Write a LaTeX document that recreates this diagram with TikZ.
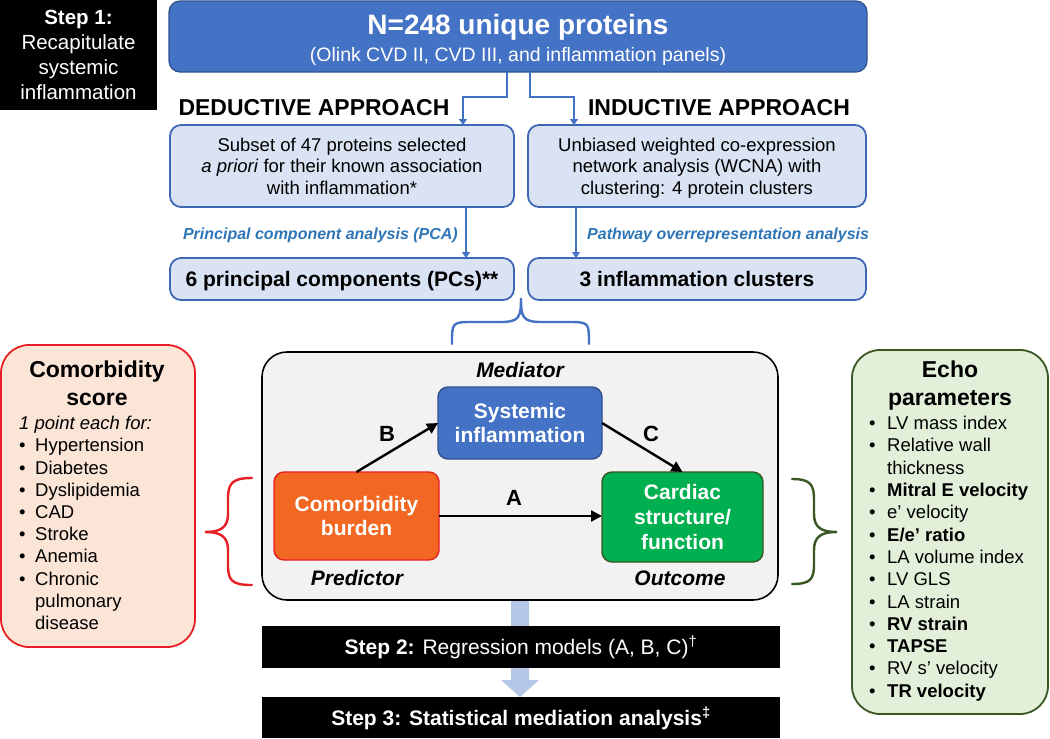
\documentclass[tikz,border=0pt]{standalone}
\usepackage{fontspec}
\setmainfont{Liberation Sans}
\usetikzlibrary{arrows.meta,calc}
\definecolor{blueA}{RGB}{68,114,196}
\definecolor{blueD}{RGB}{47,82,143}
\definecolor{blueL}{RGB}{218,227,243}
\definecolor{blueB}{RGB}{62,104,180}
\definecolor{labelblue}{RGB}{46,117,182}
\definecolor{peach}{RGB}{251,229,214}
\definecolor{redB}{RGB}{232,30,37}
\definecolor{echoF}{RGB}{226,240,217}
\definecolor{greenD}{RGB}{56,87,35}
\definecolor{orangeF}{RGB}{242,103,34}
\definecolor{greenF}{RGB}{0,176,80}
\definecolor{grayF}{RGB}{242,242,242}
\definecolor{arrowL}{RGB}{180,199,231}
\newcommand{\fsz}[2]{\fontsize{#1pt}{#2pt}\selectfont}
\newcommand{\tlines}[2]{\begin{tabular}[t]{@{}#1@{}}#2\end{tabular}}
\newcommand{\bul}[1]{\makebox[#1][l]{\textbullet}}
\tikzset{
  box/.style={rectangle, inner sep=0pt, outer sep=0pt},
  topbox/.style={box, draw=blueD, fill=blueA, line width=1.2pt, rounded corners=11pt},
  lbox/.style={box, draw=blueB, fill=blueL, line width=1.8pt, rounded corners=11pt, align=center},
  conn/.style={draw=blueA, line width=2pt, -{Triangle[width=8pt,length=6pt]}},
  blab/.style={text=labelblue, font=\fsz{16}{19}\bfseries\itshape, inner sep=0pt},
  causal/.style={draw=black, line width=2.4pt, -{Triangle[width=11pt,length=11pt]}},
  bracestyle/.style={line width=2.4pt, line cap=round},
  txt/.style={anchor=base, inner sep=0pt},
  medbox/.style={box, line width=1.4pt, rounded corners=10pt, text=white},
  stepbar/.style={box, fill=black, text=white, minimum width=518pt, font=\fsz{21}{24}, text height=15pt, text depth=0pt},
  sidebox/.style={box, line width=1.8pt, rounded corners=28pt},
}
\begin{document}
\begin{tikzpicture}[x=1pt, y=-1pt]
\useasboundingbox (0,0) rectangle (1050,739);

% Step 1
\node[box, fill=black, minimum width=157pt, minimum height=110pt, text=white,
      font=\fsz{20.5}{25}, text height=14.7pt, text depth=75pt] (step1) at (78.5,55)
  {\tlines{c}{\textbf{Step 1:}\\Recapitulate\\systemic\\inflammation}};

% Top box
\node[topbox, minimum width=698pt, minimum height=71pt] (top) at (518,36.5) {};
\node[txt, text=white, font=\fsz{28}{32}\bfseries] (toptitle) at (518,34.5) {N=248 unique proteins};
\node[txt, text=white, font=\fsz{19.5}{22}] (topsub) at (518,61) {(Olink CVD II, CVD III, and inflammation panels)};

% Approach headings
\node[txt, font=\fsz{23}{26}\bfseries] (ded) at (314,115) {DEDUCTIVE APPROACH};
\node[txt, font=\fsz{23}{26}\bfseries] (ind) at (719,115) {INDUCTIVE APPROACH};

% Upper light boxes
\node[lbox, minimum width=344pt, minimum height=82pt, font=\fsz{18.5}{21.5},
      text height=13.2pt, text depth=43pt] (dbox) at (342,166)
  {\tlines{c}{Subset of 47 proteins selected\\\textit{a priori} for their known association\\with inflammation*}};
\node[lbox, minimum width=338pt, minimum height=82pt, font=\fsz{18.5}{21.5},
      text height=13.2pt, text depth=43pt] (ibox) at (697,166)
  {\tlines{c}{Unbiased weighted co-expression\\network analysis (WCNA) with\\clustering: 4 protein clusters}};

% Lower light boxes
\node[lbox, minimum width=344pt, minimum height=42pt, font=\fsz{21}{24}\bfseries,
      text height=15pt, text depth=0pt] (pcbox) at (342,279) {6 principal components (PCs)**};
\node[lbox, minimum width=338pt, minimum height=42pt, font=\fsz{21}{24}\bfseries,
      text height=15pt, text depth=0pt] (clbox) at (697,279) {3 inflammation clusters};

% Connectors top
\coordinate (sL) at (507,0);
\coordinate (sR) at (530,0);
\coordinate (jL) at (463,97);
\coordinate (jR) at (574,97);
\draw[conn] (top.south -| sL) |- (jL) -- (dbox.north -| jL);
\draw[conn] (top.south -| sR) |- (jR) -- (ibox.north -| jR);

\coordinate (aL) at (466,0);
\coordinate (aR) at (576,0);
\draw[conn] (dbox.south -| aL) -- (pcbox.north -| aL);
\draw[conn] (ibox.south -| aR) -- (clbox.north -| aR);
\node[blab, anchor=base east] (pcalab) at (458,239) {Principal component analysis (PCA)};
\node[blab, anchor=base west] (pathlab) at (587,239) {Pathway overrepresentation analysis};

% Blue brace
\draw[bracestyle, draw=blueA] (452,344) .. controls (452,322) and (452,322) .. (474,322) -- (500,322)
  .. controls (519,322) and (521,318) .. (521,298)
  .. controls (521,318) and (523,322) .. (542,322) -- (567,322)
  .. controls (589,322) and (589,322) .. (589,344);

% Light blue big arrow
\fill[arrowL] ($(520,600)+(-9,0)$) -- ++(0,80) -- ++(-10,0) -- ++(19,17) -- ++(19,-17) -- ++(-10,0) -- ++(0,-80) -- cycle;

% Mediation box
\node[box, draw=black, fill=grayF, line width=1.6pt, rounded corners=25pt,
      minimum width=516pt, minimum height=248pt] (med) at (520,476) {};
\node[txt, font=\fsz{21}{24}\bfseries\itshape] (medlab) at (520,377.5) {Mediator};
\node[medbox, draw=blueD, fill=blueA, minimum width=164pt, minimum height=72pt,
      font=\fsz{21}{24}\bfseries, text height=15pt, text depth=24pt] (sys) at (520,423)
  {\tlines{c}{Systemic\\inflammation}};
\node[medbox, draw=redB, fill=orangeF, minimum width=165pt, minimum height=88pt,
      font=\fsz{21}{24}\bfseries, text height=15pt, text depth=24pt] (orange) at (356.5,516)
  {\tlines{c}{Comorbidity\\burden}};
\node[medbox, draw=greenD, fill=greenF, minimum width=161pt, minimum height=90pt,
      font=\fsz{21}{25}\bfseries, text height=15pt, text depth=50pt] (cardiac) at (682.5,517)
  {\tlines{c}{Cardiac\\structure/\\function}};
\node[txt, font=\fsz{21}{24}\bfseries\itshape] (predlab) at (357,585) {Predictor};
\node[txt, font=\fsz{21}{24}\bfseries\itshape] (outlab) at (680,585) {Outcome};

\draw[causal] (orange.east) -- (orange.east -| cardiac.west);
\draw[causal] (orange.north) -- (sys.west);
\draw[causal] (sys.east) -- (cardiac.north);
\node[txt, font=\fsz{22}{24}\bfseries] (labA) at (514,505) {A};
\node[txt, font=\fsz{22}{24}\bfseries] (labB) at (387,441) {B};
\node[txt, font=\fsz{22}{24}\bfseries] (labC) at (651,441) {C};

% Side braces
\draw[bracestyle, draw=redB] (252,478) .. controls (231,478) and (228,484) .. (228,500) -- (228,514)
  .. controls (228,528) and (220,532) .. (205,532)
  .. controls (220,532) and (228,536) .. (228,550) -- (228,564)
  .. controls (228,580) and (231,585) .. (252,585);
\draw[bracestyle, draw=greenD] (792,479) .. controls (811,479) and (814,485) .. (814,500) -- (814,514)
  .. controls (814,528) and (822,532) .. (837,532)
  .. controls (822,532) and (814,536) .. (814,550) -- (814,564)
  .. controls (814,579) and (811,584) .. (792,584);

% Comorbidity score box
\node[sidebox, draw=redB, fill=peach, minimum width=194pt, minimum height=302pt] (cscore) at (98,496) {};
\node[txt, font=\fsz{23}{28}\bfseries] (cstitle) at (97,377) {\tlines{c}{Comorbidity\\score}};
\node[anchor=base west, inner sep=0pt, font=\fsz{18.5}{22.2}] (cslist) at (19,429.6)
  {\tlines{l}{\textit{1 point each for:}\\
   \bul{16pt}Hypertension\\
   \bul{16pt}Diabetes\\
   \bul{16pt}Dyslipidemia\\
   \bul{16pt}CAD\\
   \bul{16pt}Stroke\\
   \bul{16pt}Anemia\\
   \bul{16pt}Chronic\\
   \hspace*{16pt}pulmonary\\
   \hspace*{16pt}disease}};

% Echo parameters box
\node[sidebox, draw=greenD, fill=echoF, minimum width=196pt, minimum height=364pt] (echo) at (950,532) {};
\node[txt, font=\fsz{23}{28}\bfseries] (echotitle) at (950,377) {\tlines{c}{Echo\\parameters}};
\node[anchor=base west, inner sep=0pt, font=\fsz{18.5}{22.3}] (echolist) at (869,429.6)
  {\tlines{l}{\bul{18pt}LV mass index\\
   \bul{18pt}Relative wall\\
   \hspace*{18pt}thickness\\
   \bul{18pt}\textbf{Mitral E velocity}\\
   \bul{18pt}e’ velocity\\
   \bul{18pt}\textbf{E/e’ ratio}\\
   \bul{18pt}LA volume index\\
   \bul{18pt}LV GLS\\
   \bul{18pt}LA strain\\
   \bul{18pt}\textbf{RV strain}\\
   \bul{18pt}\textbf{TAPSE}\\
   \bul{18pt}RV s’ velocity\\
   \bul{18pt}\textbf{TR velocity}}};

% Step bars
\node[stepbar, minimum height=42pt] (step2) at (521,647)
  {\textbf{Step 2:} Regression models (A, B, C)\textsuperscript{†}};
\node[stepbar, minimum height=41pt, font=\fsz{21}{24}\bfseries] (step3) at (521,717.5)
  {Step 3: Statistical mediation analysis\textsuperscript{‡}};
\end{tikzpicture}
\end{document}
